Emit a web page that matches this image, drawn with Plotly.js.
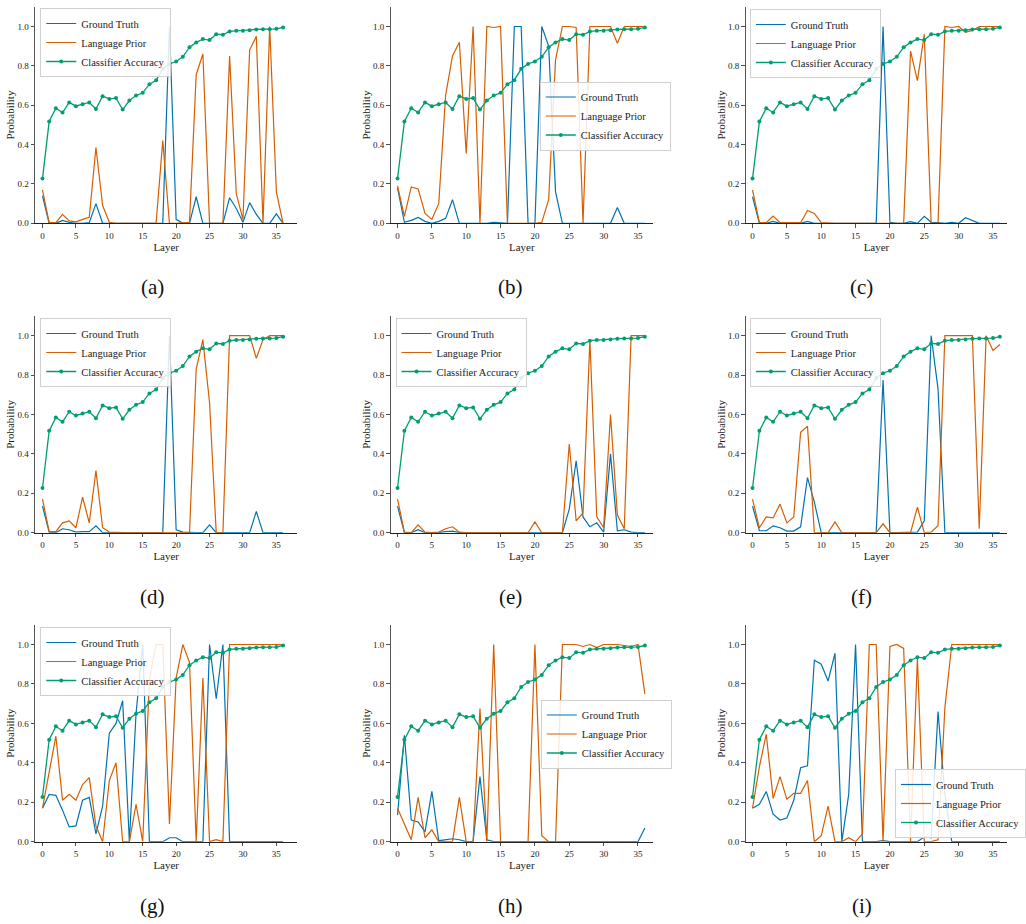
<!DOCTYPE html>
<html>
<head>
<meta charset="utf-8">
<script src="https://cdn.plot.ly/plotly-3.0.1.min.js"></script>
<style>html,body{margin:0;padding:0;background:#fff;}#chart{width:1026px;height:924px;}</style>
</head>
<body>
<div id="chart"></div>
<script>
const layers = Array.from({length: 37}, (_, i) => i);
const seriesNames = ["Ground Truth", "Language Prior", "Classifier Accuracy"];
const panelLabels = ["(a)", "(b)", "(c)", "(d)", "(e)", "(f)", "(g)", "(h)", "(i)"];
const xTicks = [0, 5, 10, 15, 20, 25, 30, 35];
const yTicks = [0, 0.2, 0.4, 0.6, 0.8, 1.0];

const accuracy = [0.227,0.517,0.585,0.563,0.614,0.595,0.605,0.614,0.581,0.646,0.632,0.636,0.578,0.624,0.649,0.663,0.707,0.727,0.785,0.810,0.822,0.846,0.895,0.919,0.936,0.931,0.961,0.958,0.975,0.978,0.978,0.981,0.985,0.986,0.986,0.988,0.995];

const gtA = [0.14,0,0,0.015,0.005,0,0,0.003,0.10,0, 0,0,0,0,0,0,0,0,0,1.0, 0.02,0,0,0.135,0,0,0,0,0.13,0.075, 0.005,0.105,0.045,0,0,0.048,0];
const lpA = [0.17,0.003,0.003,0.045,0.012,0.007,0.02,0.03,0.385,0.09, 0.005,0,0,0,0,0,0,0,0.42,0, 0,0.003,0.005,0.755,0.86,0,0,0,0.85,0.15, 0.02,0.88,0.95,0,1.0,0.16,0];

const gtB = [0.18,0.005,0.015,0.03,0.01,0,0.01,0.025,0.12,0, 0,0,0,0,0.005,0.003,0,1.0,1.0,0, 0,1.0,0.9,0.16,0,0,0,0,0,0, 0,0,0.08,0,0,0,0];
const lpB = [0.19,0.035,0.185,0.175,0.05,0.02,0.10,0.65,0.85,0.92, 0.355,1.0,0,1.0,0.995,1.0,0,0,0,0, 0,0.005,0.12,0.83,1.0,1.0,0.995,0,1.0,1.0, 1.0,1.0,0.915,1.0,1.0,1.0,1.0];

const gtC = [0.135,0,0,0.01,0,0,0,0,0.01,0, 0,0,0,0,0,0,0,0,0,1.0, 0.005,0,0,0.008,0,0.035,0.005,0.003,0,0.005, 0,0.028,0.015,0,0,0,0];
const lpC = [0.17,0.003,0.003,0.037,0.003,0.003,0.003,0.003,0.065,0.05, 0.003,0,0,0,0,0,0,0,0,0, 0,0,0,0.875,0.725,0.96,0,0,1.0,0.995, 1.0,0.97,0.98,1.0,1.0,1.0,1.0];

const gtD = [0.135,0.003,0,0.02,0.015,0.003,0.005,0.005,0.035,0, 0,0,0,0,0,0,0,0,0,1.0, 0.015,0.003,0,0,0,0.04,0,0,0,0, 0,0,0.108,0,0,0,0];
const lpD = [0.17,0.005,0.005,0.05,0.06,0.025,0.18,0.05,0.315,0.025, 0.003,0,0,0,0,0,0,0,0,0, 0,0,0,0.83,0.98,0.66,0,0,1.0,1.0, 1.0,1.0,0.885,0.98,1.0,1.0,1.0];

const gtE = [0.135,0,0,0.015,0,0,0,0.005,0.008,0, 0,0,0,0,0,0,0,0,0,0, 0,0,0,0,0,0.12,0.365,0.08,0.03,0.05, 0.003,0.40,0.01,0.015,0.003,0,0];
const lpE = [0.17,0.003,0,0.04,0.003,0,0.003,0.02,0.03,0.003, 0,0,0,0,0,0,0,0,0,0, 0.055,0,0,0,0,0.45,0.06,0.10,0.98,0.08, 0.025,0.60,0.09,0.02,1.0,1.0,1.0];

const gtF = [0.135,0.01,0.01,0.035,0.025,0.008,0.008,0.03,0.28,0.155, 0,0,0,0,0,0,0,0,0,0.775, 0,0,0,0,0.003,0.06,1.0,0.73,0,0, 0,0,0,0,0,0,0];
const lpF = [0.17,0.025,0.08,0.075,0.145,0.05,0.08,0.51,0.54,0, 0,0,0.055,0,0,0,0,0,0,0.045, 0,0,0,0,0.13,0,0.003,0.035,1.0,1.0, 1.0,1.0,1.0,0.02,1.0,0.925,0.955];

const gtG = [0.17,0.24,0.235,0.16,0.075,0.08,0.21,0.225,0.04,0.18, 0.55,0.60,0.715,0,0.65,1.0,0,0,0,0.02, 0.02,0,0,0,0,1.0,0.725,1.0,0,0, 0,0,0,0,0,0,0];
const lpG = [0.17,0.36,0.535,0.21,0.24,0.21,0.29,0.325,0.08,0, 0.31,0.40,0,0,0.19,0,0.825,1.0,1.0,0.09, 0.83,1.0,0.91,0,0.83,0,0.01,0,1.0,1.0, 1.0,1.0,1.0,1.0,1.0,1.0,1.0];

const gtH = [0.135,0.54,0.11,0.10,0.05,0.255,0.005,0.01,0.015,0.01, 0,0,0.33,0.01,0,0,0,0,0,0, 0,0,0,0,0,0,0,0,0,0, 0,0,0,0,0,0,0.07];
const lpH = [0.17,0.085,0.01,0.225,0.02,0.06,0,0,0,0.225, 0,0,0.675,0,1.0,0,0,0,0,0, 1.0,0.03,0,0,1.0,1.0,1.0,0.99,1.0,0.985, 1.0,1.0,1.0,0.995,0.99,1.0,0.75];

const gtI = [0.17,0.19,0.255,0.14,0.11,0.12,0.21,0.375,0.385,0.92, 0.90,0.815,0.955,0,0.24,1.0,0,0,0,0.005, 0,0,0,0,0,0.025,0.02,0.66,0.24,0, 0,0,0,0,0,0,0];
const lpI = [0.17,0.38,0.545,0.22,0.33,0.215,0.245,0.245,0.31,0, 0.03,0.18,0,0,0.02,0,0.04,1.0,1.0,0, 0.99,1.0,0.98,0,0.93,0,0,0.01,0.68,1.0, 1.0,1.0,1.0,1.0,1.0,1.0,1.0];

const groundTruth = [gtA, gtB, gtC, gtD, gtE, gtF, gtG, gtH, gtI];
const languagePrior = [lpA, lpB, lpC, lpD, lpE, lpF, lpG, lpH, lpI];

// ---- presentation ----
const W = 1026, H = 924;
const colors = ["#0173B2", "#D55E00", "#029E73"];
const serif = "Liberation Serif";
const colPx = [[36, 302.7], [398.3, 665], [760, 1026]];
const colRange = [[-1.07, 38.1], [-0.96, 37.14], [-0.96, 37.04]];
const rowPx = [[6.8, 223.3], [316, 532.7], [624.8, 841.7]];
const labelPos = [[155, 287], [520, 287], [878, 287], [155, 597], [520, 597], [878, 597], [155, 906], [520, 906], [878, 906]];
// legend anchor: [x px, y px, yanchor]
const legendPos = [[41, 8, "top"], [550, 116, "middle"], [764, 9, "top"], [41, 318, "top"], [403, 318, "top"], [764, 318, "top"], [41, 627, "top"], [551, 734, "middle"], [912, 838, "bottom"]];

const traces = [];
const layout = {
  width: W, height: H,
  margin: {l: 0, r: 0, t: 0, b: 0},
  paper_bgcolor: "#fff", plot_bgcolor: "#fff",
  font: {family: serif, color: "#222", size: 10},
  annotations: [],
  showlegend: true
};

for (let p = 0; p < 9; p++) {
  const r = Math.floor(p / 3), c = p % 3;
  const sfx = p === 0 ? "" : String(p + 1);
  const xa = "x" + sfx, ya = "y" + sfx;
  const lg = "legend" + sfx;
  traces.push({x: layers, y: groundTruth[p], xaxis: xa, yaxis: ya, type: "scatter", mode: "lines",
    name: seriesNames[0], legend: lg, line: {color: colors[0], width: 1.2}});
  traces.push({x: layers, y: languagePrior[p], xaxis: xa, yaxis: ya, type: "scatter", mode: "lines",
    name: seriesNames[1], legend: lg, line: {color: colors[1], width: 1.2}});
  traces.push({x: layers, y: accuracy, xaxis: xa, yaxis: ya, type: "scatter", mode: "lines+markers",
    name: seriesNames[2], legend: lg, line: {color: colors[2], width: 1.3},
    marker: {color: colors[2], size: 4}, cliponaxis: false});

  layout["xaxis" + sfx] = {
    domain: [colPx[c][0] / W, colPx[c][1] / W], anchor: ya,
    range: colRange[c], tickvals: xTicks, ticks: "outside", ticklen: 3.5, tickwidth: 0.8, tickcolor: "#222",
    showline: true, linecolor: "#222", linewidth: 1, showgrid: false, zeroline: false,
    tickfont: {family: serif, size: 9, color: "#222"},
    title: {text: "Layer", font: {family: serif, size: 11, color: "#222"}, standoff: 0}
  };
  layout["yaxis" + sfx] = {
    domain: [1 - rowPx[r][1] / H, 1 - rowPx[r][0] / H], anchor: xa,
    range: [0, 1.1], tickvals: yTicks, tickformat: ".1f", ticks: "outside", ticklen: 3.5, tickwidth: 0.8, tickcolor: "#222",
    showline: true, linecolor: "#555", linewidth: 1.3, showgrid: false, zeroline: false,
    tickfont: {family: serif, size: 9, color: "#222"},
    title: {text: "Probability", font: {family: serif, size: 11, color: "#222"}, standoff: 0}
  };
  layout[lg] = {
    x: legendPos[p][0] / W, y: 1 - legendPos[p][1] / H, xanchor: "left", yanchor: legendPos[p][2],
    bgcolor: "rgba(255,255,255,0.85)", bordercolor: "#d0d0d0", borderwidth: 1,
    font: {family: serif, size: 10.5, color: "#222"}, itemwidth: 30, tracegroupgap: 0
  };
  layout.annotations.push({
    text: panelLabels[p], xref: "paper", yref: "paper",
    x: labelPos[p][0] / W, y: 1 - labelPos[p][1] / H, xanchor: "center", yanchor: "middle",
    showarrow: false, font: {family: serif, size: 21, color: "#111"}
  });
}

Plotly.newPlot("chart", traces, layout, {staticPlot: true, displayModeBar: false});
</script>
</body>
</html>
